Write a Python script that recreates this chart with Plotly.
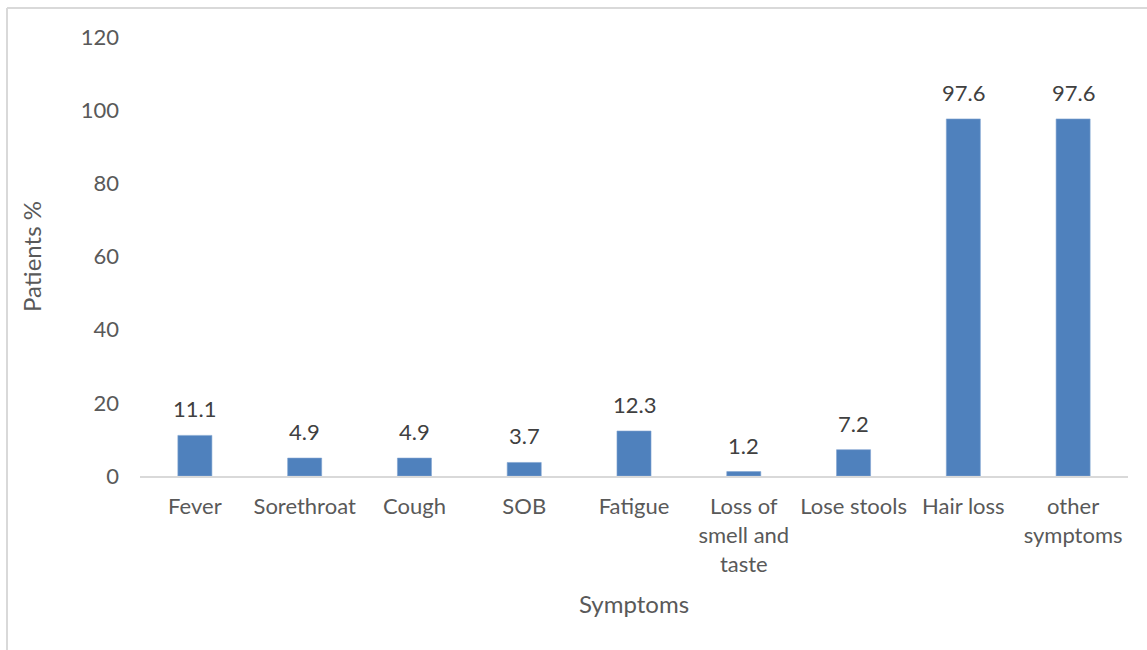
import plotly.graph_objects as go

# Symptom categories and share of patients (%)
symptoms = ["Fever", "Sorethroat", "Cough", "SOB", "Fatigue",
            "Loss of<br>smell and<br>taste", "Lose stools", "Hair loss",
            "other<br>symptoms"]
patients_pct = [11.1, 4.9, 4.9, 3.7, 12.3, 1.2, 7.2, 97.6, 97.6]
y_ticks = [0, 20, 40, 60, 80, 100, 120]

FONT = "Lato"
BAR_COLOR = "#4F81BD"
TEXT_COLOR = "#595959"

W, H = 1147, 650
L, R, T, B = 140, 19, 37, 174
plot_w = W - L - R
plot_h = H - T - B

fig = go.Figure()
fig.add_trace(go.Bar(
    x=symptoms,
    y=patients_pct,
    marker=dict(color=BAR_COLOR, line=dict(color="#7FA3D0", width=0.6)),
    width=0.31,
    hoverinfo="x+y",
))

# value labels above each bar
for s, v in zip(symptoms, patients_pct):
    fig.add_annotation(
        x=s, y=v, text=f"{v:g}", showarrow=False,
        yanchor="bottom", yshift=11,
        font=dict(family=FONT, size=22, color="#404040"),
    )

# light frame around the chart area (left and top edges)
fx = (7 - L) / plot_w
fy = (H - B - 8) / plot_h
fig.add_shape(type="line", xref="paper", yref="paper",
              x0=fx, x1=fx, y0=fy, y1=-2, line=dict(color="#D9D9D9", width=2))
fig.add_shape(type="line", xref="paper", yref="paper",
              x0=fx, x1=2, y0=fy, y1=fy, line=dict(color="#D9D9D9", width=2))

fig.update_layout(
    width=W, height=H,
    margin=dict(l=L, r=R, t=T, b=B, pad=0),
    paper_bgcolor="white", plot_bgcolor="white",
    showlegend=False,
    font=dict(family=FONT, size=22, color=TEXT_COLOR),
    xaxis=dict(
        showline=True, linecolor="#D9D9D9", linewidth=2,
        ticks="", showgrid=False,
        tickfont=dict(family=FONT, size=22, color=TEXT_COLOR),
        ticklabelstandoff=10,
        title=dict(text="Symptoms", font=dict(family=FONT, size=24, color=TEXT_COLOR),
                   standoff=21),
        tickangle=0,
    ),
    yaxis=dict(
        range=[0, 120], tickvals=y_ticks,
        showline=False, showgrid=False, zeroline=False, ticks="",
        tickfont=dict(family=FONT, size=22, color=TEXT_COLOR),
        ticklabelstandoff=20,
        title=dict(text="Patients %", font=dict(family=FONT, size=24, color=TEXT_COLOR),
                   standoff=32),
    ),
)

fig.write_html("out.html")
